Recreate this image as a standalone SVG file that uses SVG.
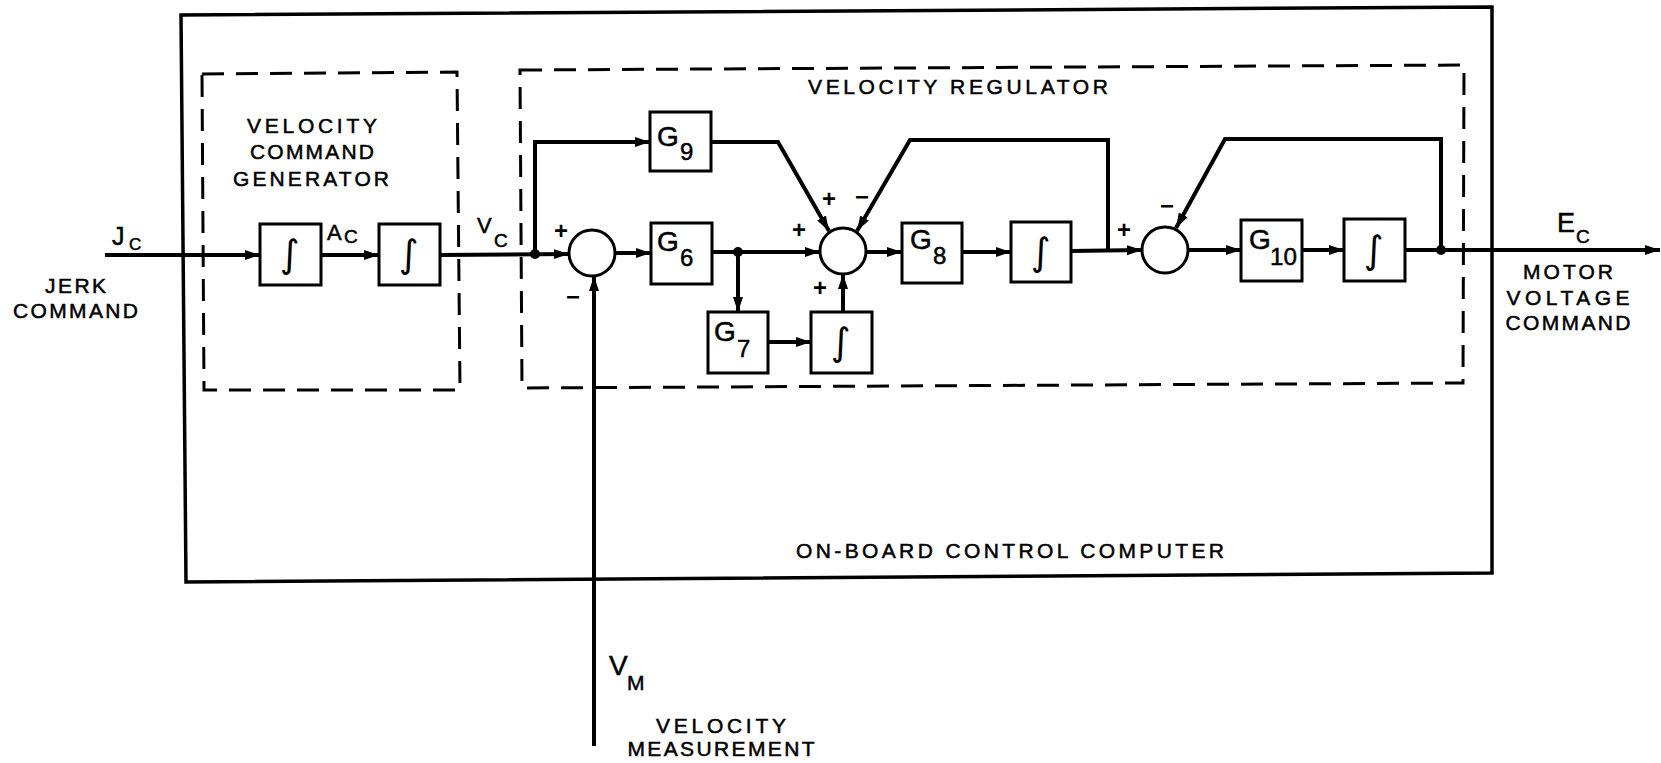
<svg xmlns="http://www.w3.org/2000/svg" width="1661" height="763" viewBox="0 0 1661 763">
<defs>
<marker id="arr" markerUnits="userSpaceOnUse" markerWidth="16" markerHeight="12" refX="15" refY="6" orient="auto"><path d="M0,1 L15,6 L0,11 z" fill="#000"/></marker>
<style>
.box{fill:#fff;stroke:#000;stroke-width:3}
.sum{fill:#fff;stroke:#000;stroke-width:3}
.ln{fill:none;stroke:#000;stroke-width:4}
.dash{fill:none;stroke:#000;stroke-width:3;stroke-dasharray:22 12}
.frame{fill:none;stroke:#000;stroke-width:3.5}
.t{font-family:"Liberation Sans",Arial,sans-serif;font-size:21px;fill:#000;stroke:#000;stroke-width:0.5}
.c{text-anchor:middle}
.g{font-family:"Liberation Sans",Arial,sans-serif;font-size:28px;fill:#000;stroke:#000;stroke-width:0.5}
.d{font-family:"Liberation Sans",Arial,sans-serif;font-size:24px;fill:#000;stroke:#000;stroke-width:0.5}
.int{font-family:"DejaVu Sans",sans-serif;font-size:38px;text-anchor:middle;fill:#000}
.sg{font-family:"Liberation Sans",Arial,sans-serif;font-size:24px;font-weight:bold;text-anchor:middle;fill:#000}
</style>
</defs>
<rect width="1661" height="763" fill="#fff"/>

<g id="onboard-computer">
<path class="frame" d="M181,15 L1492,7 L1492,573 L186,582 Z"/>
<text class="t" x="796" y="558" textLength="428" lengthAdjust="spacing">ON-BOARD CONTROL COMPUTER</text>
</g>

<g id="velocity-command-generator">
<path class="dash" d="M202,74 L457,72 L460,390 L204,390 Z"/>
<text class="t" x="247" y="133" textLength="130" lengthAdjust="spacing">VELOCITY</text>
<text class="t" x="250" y="159" textLength="124" lengthAdjust="spacing">COMMAND</text>
<text class="t" x="233" y="186" textLength="156" lengthAdjust="spacing">GENERATOR</text>
</g>

<g id="velocity-regulator">
<path class="dash" d="M520,70 L1464,65 L1463,383 L522,388 Z"/>
<text class="t" x="808" y="94" textLength="300" lengthAdjust="spacing">VELOCITY REGULATOR</text>
</g>

<g id="connectors">
<path class="ln" d="M105,255 L260,255" marker-end="url(#arr)"/>
<path class="ln" d="M321,255 L379,255" marker-end="url(#arr)"/>
<path class="ln" d="M440,255 L569,254" marker-end="url(#arr)"/>
<path class="ln" d="M535,254 L535,142 L650,142" marker-end="url(#arr)"/>
<path class="ln" d="M615,253 L651,253" marker-end="url(#arr)"/>
<path class="ln" d="M712,252 L820,252" marker-end="url(#arr)"/>
<path class="ln" d="M738,252 L738,312" marker-end="url(#arr)"/>
<path class="ln" d="M768,342 L811,342" marker-end="url(#arr)"/>
<path class="ln" d="M843,312 L843,274" marker-end="url(#arr)"/>
<path class="ln" d="M711,142 L778,142 L829,231" marker-end="url(#arr)"/>
<path class="ln" d="M866,252 L902,252" marker-end="url(#arr)"/>
<path class="ln" d="M962,252 L1011,252" marker-end="url(#arr)"/>
<path class="ln" d="M1071,251 L1142,250" marker-end="url(#arr)"/>
<path class="ln" d="M1108,251 L1108,140 L910,140 L857,231" marker-end="url(#arr)"/>
<path class="ln" d="M1188,250 L1241,250" marker-end="url(#arr)"/>
<path class="ln" d="M1302,250 L1344,250" marker-end="url(#arr)"/>
<path class="ln" d="M1405,250 L1660,250" marker-end="url(#arr)"/>
<path class="ln" d="M1441,250 L1441,139 L1225,139 L1176,228" marker-end="url(#arr)"/>
<path class="ln" d="M594,746 L594,276" marker-end="url(#arr)"/>
<circle cx="535" cy="254" r="5"/>
<circle cx="738" cy="252" r="5"/>
<circle cx="1441" cy="250" r="5"/>
</g>

<g id="jerk-command">
<text class="t" x="112" y="245" style="font-size:25px">J</text>
<text class="t" x="129" y="250" style="font-size:17px">C</text>
<text class="t" x="45" y="293" textLength="61" lengthAdjust="spacing">JERK</text>
<text class="t" x="13" y="318" textLength="125" lengthAdjust="spacing">COMMAND</text>
</g>

<g id="int1"><rect class="box" x="260" y="224" width="61" height="61"/><text class="int" x="290" y="267">∫</text></g>
<g id="label-ac"><text class="t" x="327" y="240" style="font-size:22px">A</text><text class="t" x="344" y="243" style="font-size:19px">C</text></g>
<g id="int2"><rect class="box" x="379" y="224" width="61" height="61"/><text class="int" x="409" y="267">∫</text></g>
<g id="label-vc"><text class="t" x="477" y="233" style="font-size:22px">V</text><text class="t" x="494" y="247" style="font-size:19px">C</text></g>

<g id="sum1">
<circle class="sum" cx="592" cy="253" r="23"/>
<text class="sg" x="561" y="239">+</text>
<text class="sg" x="573" y="305">−</text>
</g>

<g id="g9"><rect class="box" x="650" y="112" width="61" height="59"/><text class="g" x="657" y="146">G</text><text class="d" x="680" y="160">9</text></g>
<g id="g6"><rect class="box" x="651" y="223" width="61" height="61"/><text class="g" x="657" y="251">G</text><text class="d" x="680" y="266">6</text></g>
<g id="g7"><rect class="box" x="708" y="312" width="60" height="61"/><text class="g" x="714" y="341">G</text><text class="d" x="737" y="357">7</text></g>
<g id="int3"><rect class="box" x="811" y="312" width="61" height="61"/><text class="int" x="841" y="355">∫</text></g>

<g id="sum2">
<circle class="sum" cx="843" cy="251" r="23"/>
<text class="sg" x="799" y="238">+</text>
<text class="sg" x="829" y="207">+</text>
<text class="sg" x="862" y="205">−</text>
<text class="sg" x="820" y="296">+</text>
</g>

<g id="g8"><rect class="box" x="902" y="223" width="60" height="60"/><text class="g" x="910" y="249">G</text><text class="d" x="933" y="264">8</text></g>
<g id="int4"><rect class="box" x="1011" y="222" width="60" height="60"/><text class="int" x="1041" y="265">∫</text></g>

<g id="sum3">
<circle class="sum" cx="1165" cy="250" r="23"/>
<text class="sg" x="1124" y="238">+</text>
<text class="sg" x="1167" y="214">−</text>
</g>

<g id="g10"><rect class="box" x="1241" y="220" width="61" height="61"/><text class="g" x="1249" y="249">G</text><text class="d" x="1270" y="265" textLength="27" lengthAdjust="spacingAndGlyphs">10</text></g>
<g id="int5"><rect class="box" x="1344" y="219" width="61" height="62"/><text class="int" x="1374" y="263">∫</text></g>

<g id="motor-voltage-command">
<text class="t" x="1557" y="232" style="font-size:27px">E</text>
<text class="t" x="1576" y="243" style="font-size:19px">C</text>
<text class="t c" x="1568" y="279" textLength="90" lengthAdjust="spacing">MOTOR</text>
<text class="t c" x="1568" y="305" textLength="123" lengthAdjust="spacing">VOLTAGE</text>
<text class="t c" x="1568" y="330" textLength="125" lengthAdjust="spacing">COMMAND</text>
</g>

<g id="velocity-measurement">
<text class="t" x="609" y="675" style="font-size:28px">V</text>
<text class="t" x="627" y="690" style="font-size:21px">M</text>
<text class="t c" x="721" y="733" textLength="130" lengthAdjust="spacing">VELOCITY</text>
<text class="t c" x="721" y="756" textLength="187" lengthAdjust="spacing">MEASUREMENT</text>
</g>
</svg>
